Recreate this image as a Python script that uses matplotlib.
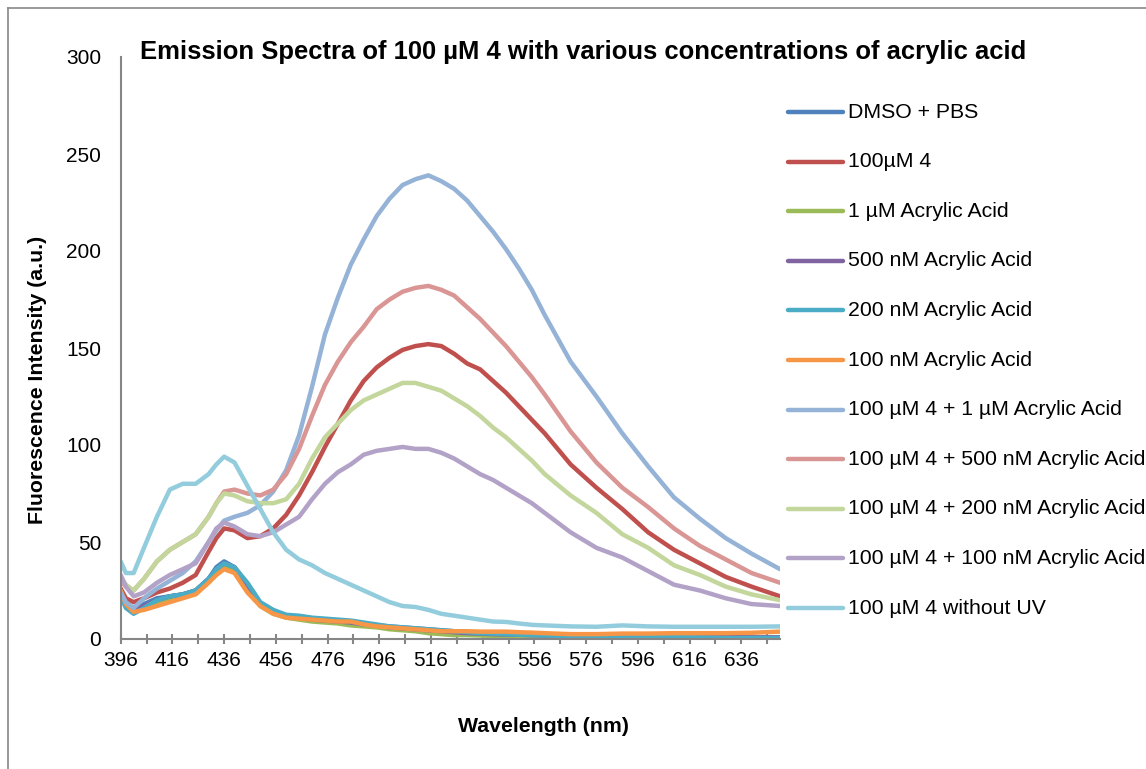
import matplotlib
matplotlib.use("Agg")
import matplotlib.pyplot as plt
from matplotlib.lines import Line2D

plt.rcParams["font.family"] = ["Liberation Sans", "DejaVu Sans"]

W, H = 1146, 769

# wavelength grid (nm)
wavelength = [396, 398, 401, 405, 410, 415, 420, 425, 430, 433, 436, 440, 445,
              450, 455, 460, 465, 470, 475, 480, 485, 490, 495, 500, 505, 510,
              515, 520, 525, 530, 535, 540, 545, 550, 555, 560, 570, 580, 590,
              600, 610, 620, 630, 640, 651]

dmso_pbs = [25, 19, 15, 18, 21, 22, 23, 25, 31, 37, 40, 37, 28, 18, 14, 12, 11,
            10.5, 10, 9.5, 9, 8, 7, 6.5, 6, 5.5, 5, 4.5, 4, 3.5, 3.2, 3, 2.8,
            2.5, 2.3, 2, 1.8, 1.5, 1.3, 1.2, 1, 1, 0.8, 0.8, 0.8]
probe_100uM = [26, 21, 19, 21, 24, 26, 29, 33, 45, 52, 57, 56, 52, 53, 57, 64,
               74, 86, 99, 111, 123, 133, 140, 145, 149, 151, 152, 151, 147,
               142, 139, 133, 127, 120, 113, 106, 90, 78, 67, 55, 46, 39, 32,
               27, 22]
aa_1uM = [23, 17, 15, 16, 18, 20, 22, 24, 30, 35, 38, 35, 26, 17, 13, 11, 10,
          9, 8.5, 8, 7, 6.5, 6, 5, 4.5, 4, 3, 2.5, 2, 2, 1.8, 1.5, 1.2, 1.2,
          1.0, 1, 1, 0.8, 0.8, 0.8, 0.6, 0.6, 0.5, 0.5, 0.5]
aa_500nM = [24, 18, 15, 17, 20, 22, 23, 25, 31, 36, 39, 37, 28, 18, 14, 12, 11,
            10, 9.5, 9, 8.5, 7.5, 7, 6, 5.5, 5, 4.5, 4, 3.5, 3, 2.8, 2.5, 2.3,
            2.2, 2, 1.8, 1.5, 1.3, 1.2, 1, 1, 1.2, 1, 0.8, 0.8]
aa_200nM = [22, 16, 13, 16, 20, 22, 23, 25, 31, 36, 39, 37, 29, 19, 15, 12.5,
            12, 11, 10.5, 10, 9.5, 8.5, 7.5, 6.5, 6, 5.5, 5, 4.5, 4, 3.5, 3,
            2.8, 2.5, 2.2, 2, 1.8, 1.5, 1.2, 1, 1, 1, 0.8, 0.5, 0.5, 0.5]
aa_100nM = [25, 18, 14, 15, 17, 19, 21, 23, 29, 33, 36, 34, 24, 17, 13, 11,
            10.5, 10, 9.5, 9, 9, 7.5, 6.5, 6, 5.5, 5, 4.5, 4, 4, 4, 3.8, 3.8,
            3.8, 3.5, 3.3, 3, 2.5, 2.5, 2.8, 2.8, 3, 3, 3, 3.2, 3.8]
probe_aa_1uM = [24, 19, 16, 21, 26, 30, 34, 40, 50, 56, 61, 63, 65, 69, 76, 87,
                105, 130, 157, 176, 193, 206, 218, 227, 234, 237, 239, 236, 232,
                226, 218, 210, 201, 191, 180, 167, 143, 125, 106, 89, 73, 62,
                52, 44, 36]
probe_aa_500nM = [30, 27, 25, 31, 40, 46, 50, 54, 63, 70, 76, 77, 75, 74, 77,
                  85, 98, 115, 131, 143, 153, 161, 170, 175, 179, 181, 182, 180,
                  177, 171, 165, 158, 151, 143, 135, 126, 107, 91, 78, 68, 57,
                  48, 41, 34, 29]
probe_aa_200nM = [32, 28, 25, 31, 40, 46, 50, 54, 63, 70, 75, 74, 71, 70, 70,
                  72, 80, 93, 104, 111, 118, 123, 126, 129, 132, 132, 130, 128,
                  124, 120, 115, 109, 104, 98, 92, 85, 74, 65, 54, 47, 38, 33,
                  27, 23, 20]
probe_aa_100nM = [33, 27, 22, 24, 29, 33, 36, 39, 50, 57, 60, 58, 54, 53, 55,
                  59, 63, 72, 80, 86, 90, 95, 97, 98, 99, 98, 98, 96, 93, 89,
                  85, 82, 78, 74, 70, 65, 55, 47, 42, 35, 28, 25, 21, 18, 17]
probe_no_uv = [40, 34, 34, 47, 63, 77, 80, 80, 85, 90, 94, 91, 79, 67, 55, 46,
               41, 38, 34, 31, 28, 25, 22, 19, 17, 16.5, 15, 13, 12, 11, 10, 9,
               8.8, 8, 7.3, 7, 6.5, 6.3, 7, 6.5, 6.3, 6.3, 6.3, 6.3, 6.5]

series = [
    ("DMSO + PBS", dmso_pbs, "#4F81BD"),
    ("100\u00b5M 4", probe_100uM, "#C0504D"),
    ("1 \u00b5M Acrylic Acid", aa_1uM, "#9BBB59"),
    ("500 nM Acrylic Acid", aa_500nM, "#8064A2"),
    ("200 nM Acrylic Acid", aa_200nM, "#4BACC6"),
    ("100 nM Acrylic Acid", aa_100nM, "#F79646"),
    ("100 \u00b5M 4 + 1 \u00b5M Acrylic Acid", probe_aa_1uM, "#95B3D7"),
    ("100 \u00b5M 4 + 500 nM Acrylic Acid", probe_aa_500nM, "#D99694"),
    ("100 \u00b5M 4 + 200 nM Acrylic Acid", probe_aa_200nM, "#C3D69B"),
    ("100 \u00b5M 4 + 100 nM Acrylic Acid", probe_aa_100nM, "#B3A2C7"),
    ("100 \u00b5M 4 without UV", probe_no_uv, "#93CDDD"),
]

fig = plt.figure(figsize=(W / 100, H / 100), dpi=100)
ax = fig.add_axes([120.7 / W, 1 - 639 / H, (780 - 120.7) / W, (639 - 57) / H])

for label, vals, color in series:
    ax.plot(wavelength, vals, color=color, linewidth=3.2,
            solid_joinstyle="round", solid_capstyle="round")

ax.set_xlim(396, 651)
ax.set_ylim(0, 300)
xt = list(range(396, 651, 10))
ax.set_xticks(xt)
ax.set_xticklabels([str(v) if (v - 396) % 20 == 0 else "" for v in xt])
ax.set_yticks(range(0, 301, 50))

for s in ("top", "right"):
    ax.spines[s].set_visible(False)
for s in ("left", "bottom"):
    ax.spines[s].set_color("#868686")
    ax.spines[s].set_linewidth(1.5)
ax.tick_params(axis="x", direction="inout", length=7, width=1.5,
               color="#868686", labelsize=15, pad=5)
ax.tick_params(axis="y", length=0, labelsize=15, pad=14)

# titles and axis labels
fig.text(140 / W, 1 - 52 / H, "Emission Spectra of 100 \u00b5M 4 with various "
         "concentrations of acrylic acid", fontsize=18.45, fontweight="bold",
         ha="left", va="center")
fig.text(38 / W, 1 - 380 / H, "Fluorescence Intensity (a.u.)", fontsize=15.3,
         fontweight="bold", rotation=90, ha="center", va="center")
fig.text(543 / W, 1 - 727 / H, "Wavelength (nm)", fontsize=15.3,
         fontweight="bold", ha="center", va="center")

# legend drawn by hand to match the spacing
y0, dy = 112, 49.6
for i, (label, vals, color) in enumerate(series):
    yy = 1 - (y0 + i * dy) / H
    fig.add_artist(Line2D([788 / W, 843 / W], [yy, yy], color=color,
                          linewidth=3.2, solid_capstyle="round",
                          transform=fig.transFigure))
    fig.text(848 / W, yy, label, fontsize=15.3, ha="left", va="center")

# outer chart frame
fig.add_artist(Line2D([8 / W, 8 / W], [0, 1 - 8 / H], color="#888888",
                      linewidth=1.2, transform=fig.transFigure))
fig.add_artist(Line2D([8 / W, 1], [1 - 8 / H, 1 - 8 / H], color="#888888",
                      linewidth=1.2, transform=fig.transFigure))

fig.savefig("out.png", dpi=100)
